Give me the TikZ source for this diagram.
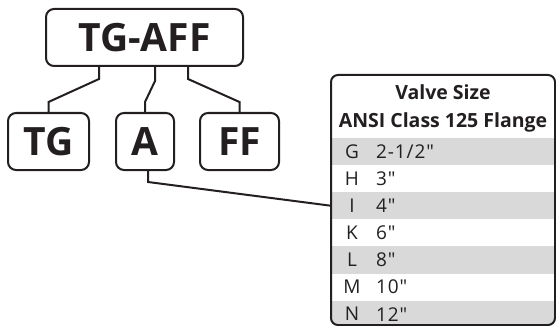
\documentclass[tikz,border=0pt]{standalone}
\usepackage{fontspec}
\setmainfont{Open Sans}
\newfontfamily\rowfont[LetterSpace=5]{Open Sans}
\usetikzlibrary{calc}
\definecolor{rowgrey}{HTML}{D9D9D9}
\definecolor{inkblack}{HTML}{231F20}

\begin{document}
\begin{tikzpicture}[x=1pt, y=-1pt, line width=2pt, color=inkblack,
          code/.style={draw, rounded corners=8pt, minimum height=57pt, inner sep=0pt,
                       font=\fontsize{39}{42}\selectfont\bfseries},
          link/.style={draw, line width=2pt},
          sizerow/.style={minimum width=224pt, minimum height=27.1pt, inner sep=0pt, anchor=north west},
          rowtxt/.style={font=\rowfont\fontsize{19}{21}\selectfont, inner sep=0pt},
          headtxt/.style={font=\fontsize{19.5}{21}\selectfont\bfseries, inner sep=0pt}]
  \useasboundingbox (0,0) rectangle (556,326);
  % model code and its parts
  \node[code, minimum width=197pt] (full) at (144.5,37.5) {TG-AFF};
  \node[code, minimum width=81pt] (tg) at (48.5,141.5) {TG};
  \node[code, minimum width=58pt] (a) at (145,141.5) {A};
  \node[code, minimum width=79pt] (ff) at (239.5,141.5) {FF};
  \draw[link] ($(full.south)+(-45.5,0)$) -- ++(0,12) -- ($(tg.north)+(0,-10)$) -- (tg.north);
  \draw[link] ($(full.south)+(10.5,0)$) -- ++(0,14) -- ($(a.north)+(0,-10)$) -- (a.north);
  \draw[link] ($(full.south)+(43.5,0)$) -- ++(0,12) -- ($(ff.north)+(0,-10)$) -- (ff.north);
  % valve size table
  \begin{scope}
    \clip[rounded corners=7pt] (331,75) rectangle (555,325);
    \foreach \k/\sz/\shade [count=\i from 0] in {G/{2-1/2"}/rowgrey, H/{3"}/white, I/{4"}/rowgrey,
                                                 K/{6"}/white, L/{8"}/rowgrey, M/{10"}/white, N/{12"}/rowgrey}{
      \node[sizerow, fill=\shade] (row-\k) at (331,{137+27.1*\i}) {};
      \node[rowtxt] at ($(row-\k.west)+(21,0)$) {\k};
      \node[rowtxt, anchor=west] at ($(row-\k.west)+(44,0)$) {\sz};
    }
  \end{scope}
  \node[headtxt] (title) at (443,92) {Valve Size};
  \node[headtxt] (flange) at (443,122) {ANSI Class 125 Flange};
  \node[draw, rounded corners=7pt, minimum width=224pt, minimum height=250pt, inner sep=0pt] (sizes) at (443,200) {};
  \draw[link] ($(a.south)+(3,0)$) -- ++(0,11) -- (row-I.west);
\end{tikzpicture}
\end{document}
